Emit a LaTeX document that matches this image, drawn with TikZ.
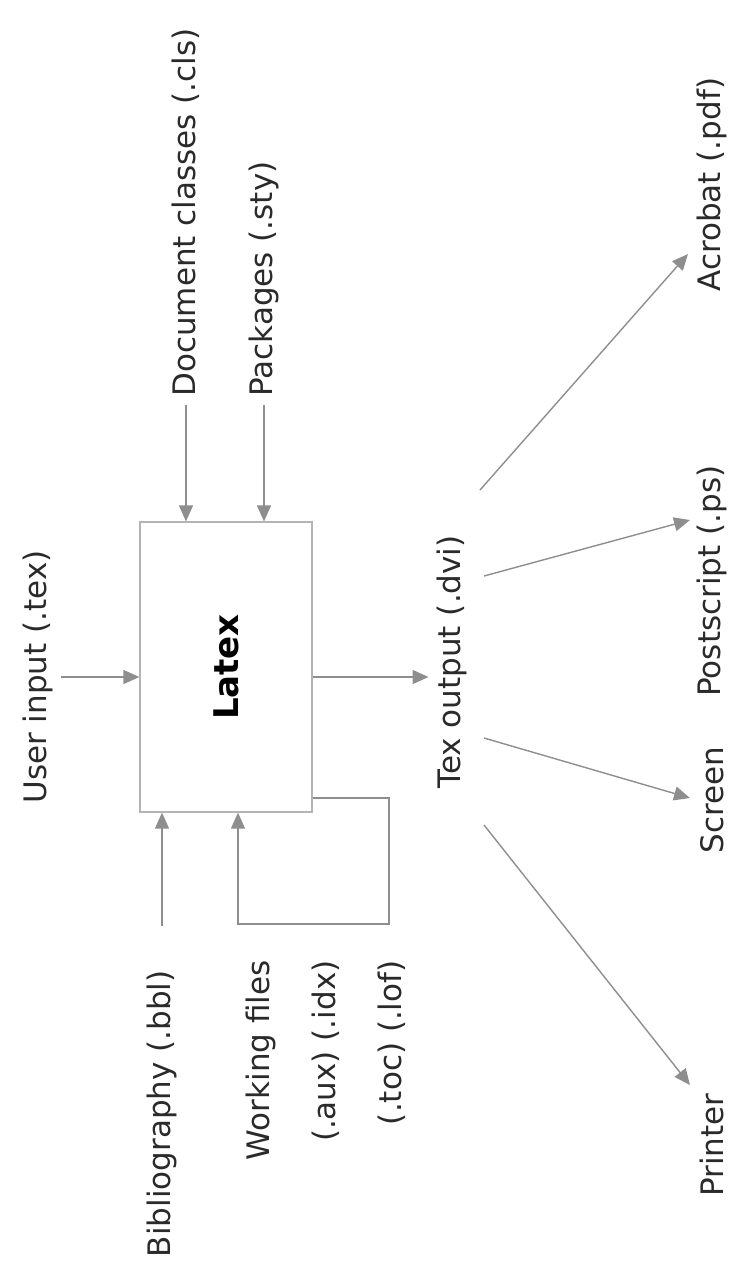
\documentclass[tikz,border=0pt]{standalone}
\usepackage{fontspec}
\setmainfont{DejaVu Sans}
\usetikzlibrary{arrows.meta}
\definecolor{linegray}{HTML}{8E8E8E}
\definecolor{boxgray}{HTML}{B4B4B4}
\definecolor{inkgray}{HTML}{2A2A2A}
\begin{document}
\begin{tikzpicture}[x=0.5pt,y=-0.5pt,
    label/.style={rotate=90,inner sep=4pt,text=inkgray,font=\fontsize{15.5}{33}\selectfont},
    arr/.style={draw=linegray,line width=0.7pt,-{Triangle[width=7pt,length=8pt,fill=linegray]}}]
    \useasboundingbox (0,0) rectangle (731,1276);
    % the processor
    \node[draw=boxgray,line width=0.6pt,rotate=90,minimum width=145pt,minimum height=86pt,
          font=\fontsize{17}{20}\selectfont\bfseries,text=black] (latex) at (226,667) {Latex};
    % inputs
    \node[label] (user) at (38,677) {User input (.tex)};
    \node[label,anchor=west] (doc) at (186,405) {Document classes (.cls)};
    \node[label,anchor=west] (pkg) at (264,405) {Packages (.sty)};
    \node[label,anchor=east] (bib) at (162,962) {Bibliography (.bbl)};
    \node[label,anchor=east,align=right] (work) at (326,952) {Working files\\(.aux) (.idx)\\(.toc) (.lof)};
    % output and devices
    \node[label] (tex) at (452,662) {Tex output (.dvi)};
    \node[label,anchor=west] (pdf) at (712,300) {Acrobat (.pdf)};
    \node[label,anchor=west] (ps) at (712,705) {Postscript (.ps)};
    \node[label,anchor=west] (screen) at (712,862) {Screen};
    \node[label,anchor=west] (printer) at (712,1205) {Printer};
    % arrows into the box
    \draw[arr] (user.south) -- (user.south -| latex.north);
    \draw[arr] (doc.west) -- (doc.west |- latex.east);
    \draw[arr] (pkg.west) -- (pkg.west |- latex.east);
    \draw[arr,shorten <=18pt] (bib.east) -- (bib.east |- latex.west);
    % working files loop
    \coordinate (fbtop) at (389,798);
    \coordinate (fbbot) at (238,924);
    \draw[arr] (latex.south |- fbtop) -- (fbtop) |- (fbbot) -- (fbbot |- latex.west);
    % dvi out
    \draw[arr] (latex.south |- user) -- (tex.north |- user);
    \coordinate (pdftail) at (480,490);  \coordinate (pdftip) at (688,254);
    \coordinate (pstail) at (484,576);   \coordinate (pstip) at (690,520);
    \coordinate (scrtail) at (484,738);  \coordinate (scrtip) at (690,798);
    \coordinate (prntail) at (484,825);  \coordinate (prntip) at (690,1085);
    \draw[arr] (pdftail) -- (pdftip);
    \draw[arr] (pstail) -- (pstip);
    \draw[arr] (scrtail) -- (scrtip);
    \draw[arr] (prntail) -- (prntip);
\end{tikzpicture}
\end{document}
